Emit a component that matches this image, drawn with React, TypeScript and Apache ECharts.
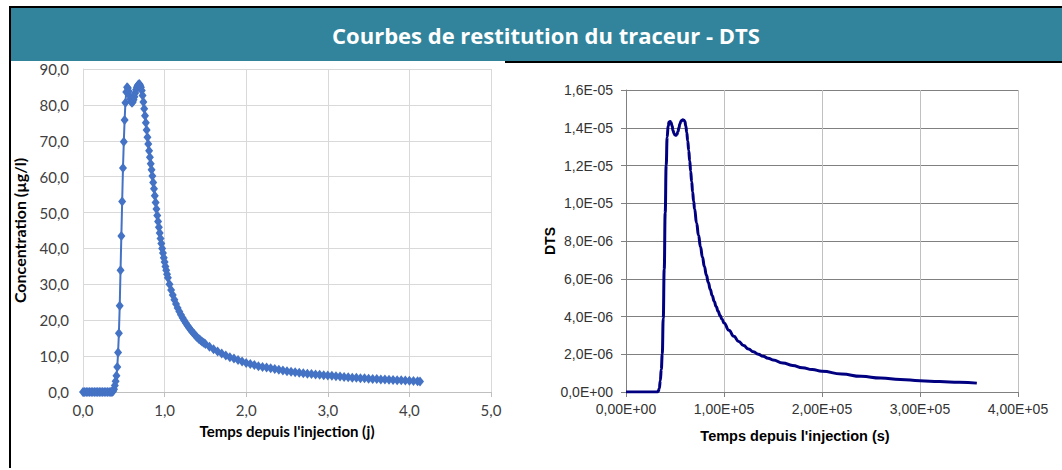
import React, { useEffect, useRef } from "react";
import * as echarts from "echarts";

// ---- Data: left chart (concentration vs days) ----
const leftDays = [
  0, 0.02, 0.04, 0.06, 0.08, 0.1, 0.12, 0.14, 0.16, 0.18, 0.2, 0.22, 0.24, 0.26, 0.28, 0.3, 0.32, 0.34,
  0.35, 0.36, 0.37, 0.38, 0.39, 0.4, 0.41, 0.42, 0.43, 0.44, 0.45, 0.46, 0.47, 0.48, 0.49, 0.5,
  0.51, 0.52, 0.53, 0.54, 0.55, 0.56, 0.57, 0.58, 0.59, 0.6, 0.61, 0.62, 0.63, 0.64, 0.65, 0.66,
  0.67, 0.68, 0.69, 0.7, 0.71, 0.72, 0.73, 0.74, 0.75, 0.76, 0.77, 0.78, 0.79, 0.8, 0.81, 0.82,
  0.83, 0.84, 0.85, 0.86, 0.87, 0.88, 0.89, 0.9, 0.91, 0.92, 0.93, 0.94, 0.95, 0.96, 0.97, 0.98,
  0.99, 1.0, 1.01, 1.02, 1.03, 1.04, 1.06, 1.08, 1.1, 1.12, 1.14, 1.16, 1.18, 1.2, 1.22, 1.24,
  1.26, 1.28, 1.3, 1.32, 1.34, 1.36, 1.38, 1.4, 1.42, 1.44, 1.46, 1.48, 1.5, 1.55, 1.6, 1.65,
  1.7, 1.75, 1.8, 1.85, 1.9, 1.95, 2.0, 2.05, 2.1, 2.15, 2.2, 2.25, 2.3, 2.35, 2.4, 2.45, 2.5,
  2.55, 2.6, 2.65, 2.7, 2.75, 2.8, 2.85, 2.9, 2.95, 3.0, 3.05, 3.1, 3.15, 3.2, 3.25, 3.3, 3.35,
  3.4, 3.45, 3.5, 3.55, 3.6, 3.65, 3.7, 3.75, 3.8, 3.85, 3.9, 3.95, 4.0, 4.05, 4.1, 4.13,
];
const leftConc = [
  0, 0, 0, 0, 0, 0, 0, 0, 0, 0, 0, 0, 0, 0, 0, 0, 0, 0,
  0.05, 0.1, 0.3, 0.8, 1.8, 3.0, 4.5, 7.0, 11.0, 16.4, 24.0, 33.9, 43.5, 53.1, 62.4, 69.7,
  75.8, 80.6, 83.6, 84.9, 84.7, 83.8, 82.6, 81.6, 80.9, 80.6, 80.8, 81.4, 82.3, 83.3, 84.2, 84.9,
  85.4, 85.7, 85.8, 85.5, 84.9, 84.0, 82.6, 80.8, 78.9, 77.0, 75.0, 73.0, 71.0, 69.1, 67.2, 65.4,
  63.6, 61.9, 60.2, 58.4, 56.6, 54.7, 52.8, 51.0, 49.2, 47.5, 45.9, 44.3, 42.8, 41.4, 40.0, 38.7,
  37.4, 36.2, 35.0, 33.9, 32.8, 31.8, 30.0, 28.4, 27.0, 25.7, 24.5, 23.4, 22.4, 21.5, 20.7, 19.9,
  19.2, 18.5, 17.9, 17.3, 16.7, 16.2, 15.7, 15.2, 14.8, 14.4, 14.0, 13.7, 13.4, 12.6, 11.9, 11.3,
  10.7, 10.2, 9.7, 9.3, 8.9, 8.5, 8.1, 7.8, 7.5, 7.2, 7.0, 6.8, 6.6, 6.4, 6.2, 6.0, 5.8,
  5.65, 5.5, 5.35, 5.2, 5.1, 5.0, 4.9, 4.8, 4.7, 4.6, 4.5, 4.4, 4.3, 4.2, 4.1, 4.0, 3.95,
  3.85, 3.8, 3.7, 3.65, 3.6, 3.5, 3.45, 3.4, 3.35, 3.3, 3.25, 3.2, 3.1, 3.05, 3.0, 2.9,
];

// ---- Data: right chart (DTS vs seconds) ----
const rightSeconds = [
  0, 10000, 20000, 30000, 32000, 33000, 34000, 35000, 36000, 37000, 38000, 39000, 40000, 41000,
  42000, 43000, 44000, 45000, 46000, 47000, 48000, 49000, 50000, 51000, 52000, 53000, 54000,
  55000, 56000, 57000, 58000, 59000, 60000, 61000, 62000, 63000, 64000, 65000, 66000, 67000,
  68000, 69000, 70000, 72000, 74000, 76000, 78000, 80000, 82000, 84000, 86000, 88000, 90000,
  92000, 94000, 96000, 98000, 100000, 105000, 110000, 115000, 120000, 125000, 130000, 135000,
  140000, 145000, 150000, 160000, 170000, 180000, 190000, 200000, 220000, 240000, 260000, 280000,
  300000, 320000, 340000, 358000,
];
const rightDts = [
  0, 0, 0, 0, 0, 0.05e-6, 0.2e-6, 0.6e-6, 1.2e-6, 2.0e-6, 3.9e-6, 6.5e-6, 9.5e-6, 12.0e-6,
  13.5e-6, 14.1e-6, 14.3e-6, 14.33e-6, 14.28e-6, 14.1e-6, 13.85e-6, 13.7e-6, 13.62e-6, 13.6e-6,
  13.65e-6, 13.8e-6, 14.0e-6, 14.2e-6, 14.33e-6, 14.4e-6, 14.42e-6, 14.4e-6, 14.35e-6, 14.1e-6,
  13.75e-6, 13.3e-6, 12.8e-6, 12.25e-6, 11.7e-6, 11.15e-6, 10.6e-6, 10.1e-6, 9.7e-6, 8.95e-6,
  8.3e-6, 7.7e-6, 7.15e-6, 6.65e-6, 6.2e-6, 5.8e-6, 5.43e-6, 5.1e-6, 4.8e-6, 4.53e-6, 4.28e-6,
  4.05e-6, 3.85e-6, 3.66e-6, 3.27e-6, 2.95e-6, 2.68e-6, 2.46e-6, 2.28e-6, 2.13e-6, 2.0e-6,
  1.89e-6, 1.79e-6, 1.7e-6, 1.54e-6, 1.41e-6, 1.29e-6, 1.19e-6, 1.1e-6, 0.95e-6, 0.83e-6,
  0.74e-6, 0.66e-6, 0.6e-6, 0.55e-6, 0.51e-6, 0.47e-6,
];

const titleText = "Courbes de restitution du traceur - DTS";
const leftXName = "Temps depuis l'injection (j)";
const leftYName = "Concentration (µg/l)";
const rightXName = "Temps depuis l'injection (s)";
const rightYName = "DTS";

const fmtComma = (v: number) => v.toFixed(1).replace(".", ",");
const fmtSci = (v: number, d: number) => {
  if (Math.abs(v) < 1e-20) return (0).toFixed(d).replace(".", ",") + "E+00";
  const s = v.toExponential(d);
  const [m, e] = s.split("e");
  const sign = e[0] === "-" ? "-" : "+";
  const n = Math.abs(parseInt(e, 10));
  return m.replace(".", ",") + "E" + sign + String(n).padStart(2, "0");
};

export default function App() {
  const ref = useRef<HTMLDivElement>(null);
  useEffect(() => {
    document.body.style.margin = "0";
    const chart = echarts.init(ref.current!, undefined, { renderer: "svg" });
    const leftFont = "Lato";
    const rightFont = "Liberation Sans";
    chart.setOption({
      animation: false,
      backgroundColor: "#ffffff",
      graphic: [
        { type: "rect", z: 0, shape: { x: 9, y: 7, width: 1053, height: 54 }, style: { fill: "#31849B" } },
        { type: "line", z: 1, shape: { x1: 9, y1: 7, x2: 1062, y2: 7 }, style: { stroke: "#000", lineWidth: 2 } },
        { type: "line", z: 1, shape: { x1: 505, y1: 62, x2: 1062, y2: 62 }, style: { stroke: "#000", lineWidth: 2 } },
        { type: "line", z: 1, shape: { x1: 10, y1: 6, x2: 10, y2: 468 }, style: { stroke: "#000", lineWidth: 2 } },
        {
          type: "text",
          z: 2,
          style: {
            text: titleText,
            x: 546,
            y: 35,
            textAlign: "center",
            textVerticalAlign: "middle",
            align: "center",
            verticalAlign: "middle",
            fill: "#ffffff",
            font: "bold 22px 'Open Sans'",
          },
        },
      ],
      grid: [
        { left: 83, top: 69, width: 408, height: 323 },
        { left: 626, top: 90, width: 392, height: 302 },
      ],
      xAxis: [
        {
          type: "value",
          gridIndex: 0,
          min: 0,
          max: 5,
          interval: 1,
          name: leftXName,
          nameLocation: "middle",
          nameGap: 31,
          nameTextStyle: { fontFamily: leftFont, fontWeight: "bold", fontSize: 15, color: "#000" },
          axisLine: { show: true, lineStyle: { color: "#bfbfbf", width: 1 } },
          axisTick: { show: true, length: 5, lineStyle: { color: "#bfbfbf" } },
          splitLine: { show: true, lineStyle: { color: "#d9d9d9", width: 1 } },
          axisLabel: { formatter: fmtComma, fontFamily: leftFont, fontSize: 15, color: "#404040", margin: 10 },
        },
        {
          type: "value",
          gridIndex: 1,
          min: 0,
          max: 400000,
          interval: 100000,
          name: rightXName,
          nameLocation: "middle",
          nameGap: 36,
          nameTextStyle: {
            fontFamily: rightFont,
            fontWeight: "bold",
            fontSize: 14.5,
            color: "#000",
            padding: [0, 54, 0, 0],
          },
          axisLine: { show: true, lineStyle: { color: "#808080", width: 1 } },
          axisTick: { show: true, length: 5, lineStyle: { color: "#808080" } },
          splitLine: { show: true, lineStyle: { color: "#c0c0c0", width: 1 } },
          axisLabel: {
            formatter: (v: number) => fmtSci(v, 2),
            fontFamily: rightFont,
            fontSize: 14,
            color: "#333",
            margin: 10,
          },
        },
      ],
      yAxis: [
        {
          type: "value",
          gridIndex: 0,
          min: 0,
          max: 90,
          interval: 10,
          name: leftYName,
          nameLocation: "middle",
          nameGap: 56,
          nameTextStyle: { fontFamily: leftFont, fontWeight: "bold", fontSize: 16, color: "#000" },
          axisLine: { show: true, lineStyle: { color: "#d9d9d9" } },
          axisTick: { show: false },
          splitLine: { show: true, lineStyle: { color: "#d9d9d9", width: 1 } },
          axisLabel: { formatter: fmtComma, fontFamily: leftFont, fontSize: 15, color: "#404040", margin: 14 },
        },
        {
          type: "value",
          gridIndex: 1,
          min: 0,
          max: 1.6e-5,
          interval: 2e-6,
          name: rightYName,
          nameLocation: "middle",
          nameGap: 63,
          nameTextStyle: { fontFamily: rightFont, fontWeight: "bold", fontSize: 14, color: "#000" },
          axisLine: { show: true, lineStyle: { color: "#808080" } },
          axisTick: { show: true, length: 5, lineStyle: { color: "#808080" } },
          splitLine: { show: true, lineStyle: { color: "#808080", width: 1 } },
          axisLabel: {
            formatter: (v: number) => fmtSci(v, 1),
            fontFamily: rightFont,
            fontSize: 14,
            color: "#333",
            margin: 13,
          },
        },
      ],
      series: [
        {
          type: "line",
          xAxisIndex: 0,
          yAxisIndex: 0,
          data: leftDays.map((d, i) => [d, leftConc[i]]),
          symbol: "diamond",
          symbolSize: [8, 10],
          itemStyle: { color: "#4472C4" },
          lineStyle: { color: "#4472C4", width: 2 },
        },
        {
          type: "line",
          xAxisIndex: 1,
          yAxisIndex: 1,
          data: rightSeconds.map((s, i) => [s, rightDts[i]]),
          showSymbol: false,
          symbol: "none",
          smooth: true,
          smoothMonotone: "x",
          lineStyle: { color: "#000080", width: 3 },
        },
      ],
    });
    return () => chart.dispose();
  }, []);
  return <div ref={ref} style={{ width: 1062, height: 470 }} />;
}
